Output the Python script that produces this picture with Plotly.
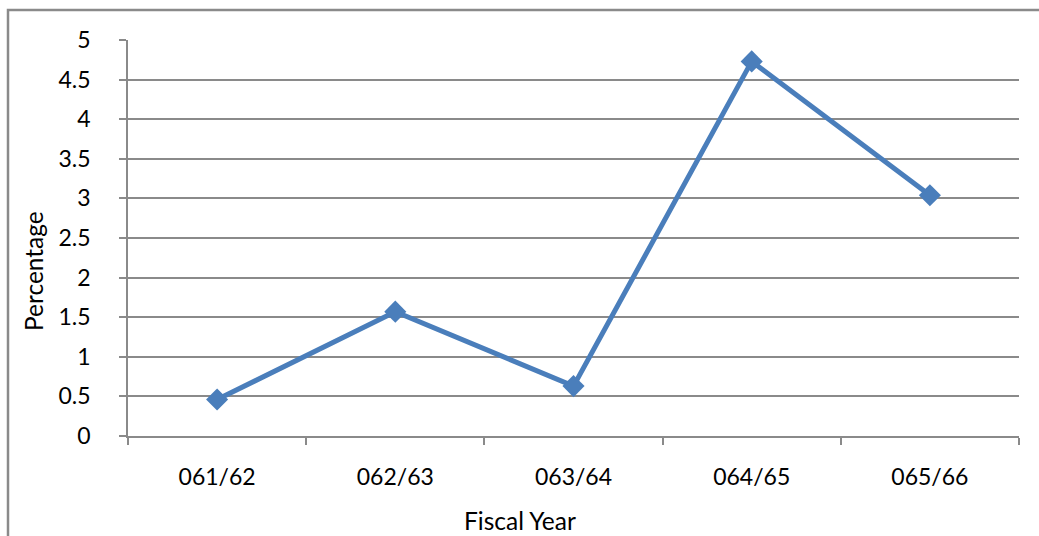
import plotly.graph_objects as go

# Fiscal years and percentage values
fiscal_years = ["061/62", "062/63", "063/64", "064/65", "065/66"]
percentages = [0.46, 1.57, 0.63, 4.73, 3.04]
y_ticks = [0, 0.5, 1, 1.5, 2, 2.5, 3, 3.5, 4, 4.5, 5]
y_tick_labels = ["0", "0.5", "1", "1.5", "2", "2.5", "3", "3.5", "4", "4.5", "5"]

W, H = 1039, 536
L, R, T, B = 128, 20, 40, 100
FONT = "Lato, 'Open Sans', sans-serif"
GRID = "#8a8a8a"
BLUE = "#4a7ebb"

fig = go.Figure(
    go.Scatter(
        x=fiscal_years,
        y=percentages,
        mode="lines+markers",
        line=dict(color=BLUE, width=5),
        marker=dict(symbol="diamond", size=17, color=BLUE),
        cliponaxis=False,
    )
)

pw = W - L - R
ph = H - T - B


def px_x(x):
    return (x - L) / pw


def px_y(y):
    return (H - B - y) / ph


fig.update_layout(
    width=W,
    height=H,
    margin=dict(l=L, r=R, t=T, b=B),
    paper_bgcolor="white",
    plot_bgcolor="white",
    showlegend=False,
    font=dict(family=FONT, size=23, color="#000000"),
    xaxis=dict(
        type="category",
        range=[-0.5, 4.5],
        showgrid=False,
        showline=True,
        linecolor=GRID,
        linewidth=1.5,
        ticks="outside",
        tickson="boundaries",
        ticklen=7,
        tickwidth=1.5,
        tickcolor=GRID,
        ticklabelstandoff=20,
        tickfont=dict(size=23),
    ),
    yaxis=dict(
        range=[0, 5],
        tickvals=y_ticks,
        ticktext=y_tick_labels,
        showgrid=True,
        gridcolor=GRID,
        gridwidth=1.5,
        zeroline=False,
        showline=True,
        linecolor=GRID,
        linewidth=1.5,
        ticks="outside",
        ticklen=7,
        tickwidth=1.5,
        tickcolor=GRID,
        ticklabelstandoff=24,
        tickfont=dict(size=23),
    ),
    annotations=[
        dict(
            text="Fiscal Year",
            xref="paper", yref="paper",
            x=px_x(520), y=px_y(520),
            xanchor="center", yanchor="middle",
            showarrow=False,
            font=dict(size=24.5),
        ),
        dict(
            text="Percentage",
            xref="paper", yref="paper",
            x=px_x(33), y=px_y(271),
            xanchor="center", yanchor="middle",
            textangle=-90,
            showarrow=False,
            font=dict(size=24.5),
        ),
        dict(
            text="(%)",
            xref="paper", yref="paper",
            x=px_x(834), y=px_y(3),
            xanchor="center", yanchor="bottom",
            showarrow=False,
            font=dict(size=23),
        ),
    ],
    shapes=[
        # outer chart frame
        dict(
            type="rect",
            xref="paper", yref="paper",
            x0=px_x(8), x1=px_x(1060),
            y0=px_y(560), y1=px_y(10),
            line=dict(color=GRID, width=2.5),
            layer="below",
        ),
    ],
)

fig.write_html("out.html")
